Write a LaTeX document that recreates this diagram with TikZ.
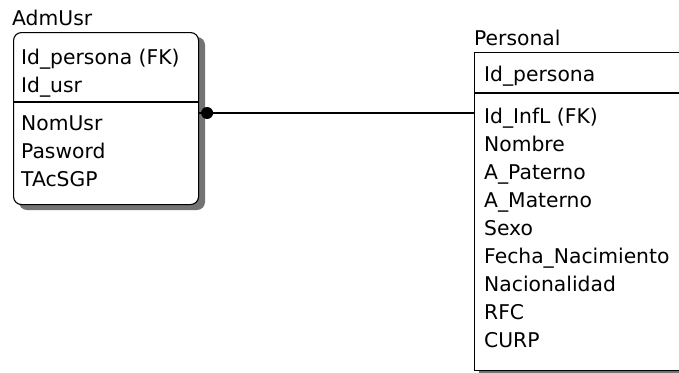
\documentclass[tikz,border=0pt]{standalone}
\usepackage{fontspec}
\setmainfont{DejaVu Sans}
\begin{document}
\begin{tikzpicture}[x=1pt,y=-1pt,
  lbl/.style={anchor=base west,inner sep=0pt,font=\fontsize{20.3}{24}\selectfont},
  ent/.style={draw=black,line width=1.1pt,fill=white,anchor=north west,inner sep=0pt},
  shad/.style={fill=black!55},
  rel/.style={line width=1.3pt}]
\useasboundingbox (0,0) rectangle (679,372);
\clip (0,0) rectangle (679,372);
% AdmUsr entity
\fill[shad,rounded corners=8] (19,37) rectangle (205,210);
\node[ent,rounded corners=8,minimum width=185,minimum height=172] (adm) at (13,32) {};
\draw[line width=1.1pt] (adm.west |- 0,102) coordinate (admdl) -- (adm.east |- 0,102) coordinate (admdr);
\node[lbl] (admt) at (12,25) {AdmUsr};
\node[lbl] (a1) at (21,64) {Id\_persona (FK)};
\node[lbl] (a2) at (21,92) {Id\_usr};
\node[lbl] (a3) at (21,130) {NomUsr};
\node[lbl] (a4) at (21,158) {Pasword};
\node[lbl] (a5) at (21,186) {TAcSGP};
% Personal entity
\fill[shad] (479,57) rectangle (700,375);
\node[ent,minimum width=220,minimum height=318] (per) at (474,52) {};
\draw[line width=1.1pt] (per.west |- 0,93) coordinate (perdl) -- (per.east |- 0,93) coordinate (perdr);
\node[lbl] (pt) at (474,45) {Personal};
\node[lbl] (p0) at (484,81) {Id\_persona};
\node[lbl] (p1) at (484,123) {Id\_InfL (FK)};
\node[lbl] (p2) at (484,151) {Nombre};
\node[lbl] (p3) at (484,179) {A\_Paterno};
\node[lbl] (p4) at (484,207) {A\_Materno};
\node[lbl] (p5) at (484,235) {Sexo};
\node[lbl] (p6) at (484,263) {Fecha\_Nacimiento};
\node[lbl] (p7) at (484,291) {Nacionalidad};
\node[lbl] (p8) at (484,319) {RFC};
\node[lbl] (p9) at (484,347) {CURP};
% relationship
\coordinate (rs) at (adm.east |- 0,113);
\coordinate (re) at (per.west |- 0,113);
\draw[rel] (rs) -- (re);
\fill (rs) ++(8,0) circle (6);
\end{tikzpicture}
\end{document}
